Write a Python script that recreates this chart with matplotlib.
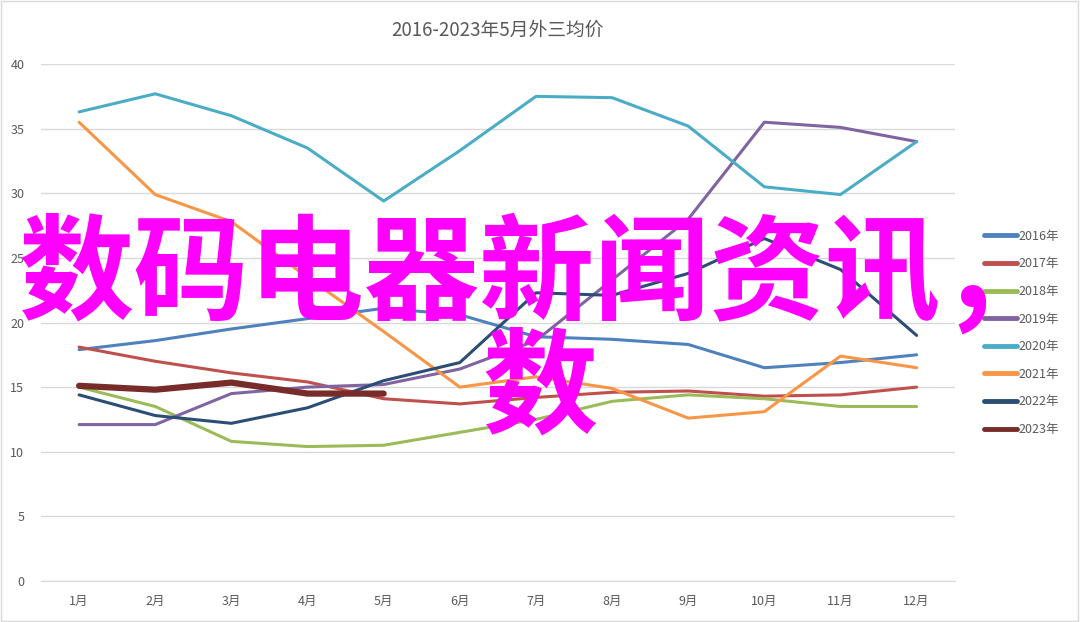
import matplotlib
matplotlib.use("Agg")
import matplotlib.pyplot as plt
from matplotlib.patches import Rectangle

plt.rcParams['font.family'] = ['Noto Sans CJK SC', 'DejaVu Sans']

months = ['1月', '2月', '3月', '4月', '5月', '6月', '7月', '8月', '9月', '10月', '11月', '12月']
years = ['2016年', '2017年', '2018年', '2019年', '2020年', '2021年', '2022年', '2023年']

v2016 = [17.9, 18.6, 19.5, 20.3, 21.1, 20.6, 18.9, 18.7, 18.3, 16.5, 16.9, 17.5]
v2017 = [18.1, 17.0, 16.1, 15.4, 14.1, 13.7, 14.2, 14.6, 14.7, 14.3, 14.4, 15.0]
v2018 = [15.0, 13.5, 10.8, 10.4, 10.5, 11.5, 12.5, 13.9, 14.4, 14.1, 13.5, 13.5]
v2019 = [12.1, 12.1, 14.5, 15.0, 15.2, 16.4, 18.6, 23.3, 28.0, 35.5, 35.1, 34.0]
v2020 = [36.3, 37.7, 36.0, 33.5, 29.4, 33.3, 37.5, 37.4, 35.2, 30.5, 29.9, 34.0]
v2021 = [35.5, 29.9, 27.8, 23.5, 19.3, 15.0, 15.8, 14.9, 12.6, 13.1, 17.4, 16.5]
v2022 = [14.4, 12.8, 12.2, 13.4, 15.5, 16.9, 22.3, 22.1, 23.8, 26.5, 24.1, 19.0]
v2023 = [15.1, 14.8, 15.35, 14.5, 14.5]

series = [v2016, v2017, v2018, v2019, v2020, v2021, v2022, v2023]
colors = ['#4F81BD', '#C0504D', '#9BBB59', '#8064A2', '#4BACC6', '#F79646', '#2C4D75', '#772C2A']
widths = [2.2, 2.2, 2.2, 2.2, 2.2, 2.2, 2.2, 4.5]

fig = plt.figure(figsize=(10.8, 6.22), dpi=100)
ax = fig.add_axes([0.038, 0.066, 0.846, 0.831])

x = list(range(1, 13))
for vals, c, lw, lab in zip(series, colors, widths, years):
    ax.plot(x[:len(vals)], vals, color=c, lw=lw, label=lab, solid_capstyle='round')

ax.set_xlim(0.5, 12.5)
ax.set_ylim(0, 40)
ax.set_yticks(range(0, 41, 5))
ax.set_xticks(x)
ax.set_xticklabels(months)
ax.grid(axis='y', color='#D9D9D9', lw=1)
ax.set_axisbelow(True)
for s in ['top', 'right', 'left']:
    ax.spines[s].set_visible(False)
ax.spines['bottom'].set_color('#D9D9D9')
ax.tick_params(length=0, labelsize=9, colors='#595959')
ax.tick_params(axis='x', pad=10)
ax.tick_params(axis='y', pad=12)

ax.set_title('2016-2023年5月外三均价', fontsize=13.5, color='#595959', pad=20)

leg = ax.legend(loc='center left', bbox_to_anchor=(1.02, 0.48), frameon=False,
                fontsize=9, labelspacing=1.17, handlelength=2.6, handletextpad=0.1)
for t in leg.get_texts():
    t.set_color('#595959')
for h in leg.get_lines():
    h.set_linewidth(3.5)

fig.patches.append(Rectangle((0.001, 0.001), 0.997, 0.997, transform=fig.transFigure,
                             fill=False, edgecolor='#D9D9D9', lw=1))

# overlay text
fig.text(0.017, 0.553, '数码电器新闻资讯', fontsize=83, fontweight='bold',
         color='#FF00FF', ha='left', va='center')
fig.text(0.881, 0.505, ',', fontsize=90, fontweight='bold',
         color='#FF00FF', ha='left', va='baseline')
fig.text(0.5, 0.369, '数', fontsize=83, fontweight='bold',
         color='#FF00FF', ha='center', va='center')

fig.savefig('out.png', dpi=100)
